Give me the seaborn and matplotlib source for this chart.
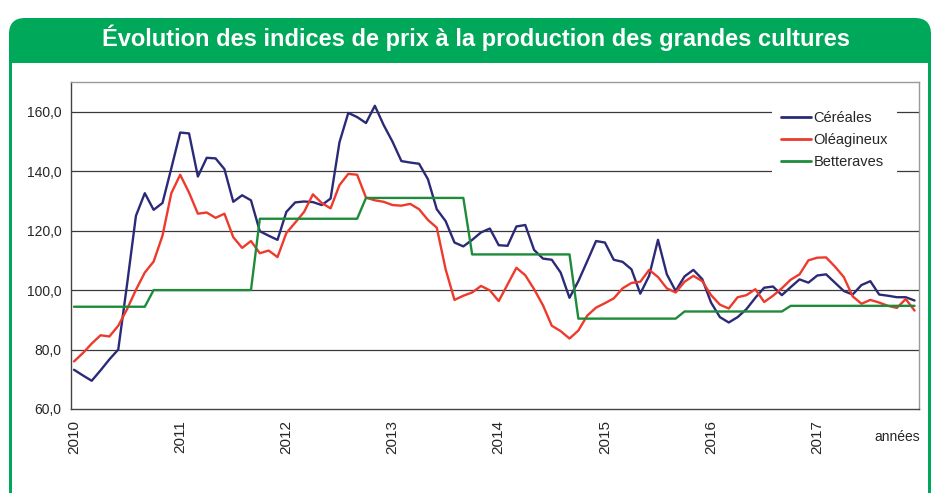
"""
Évolution des indices de prix à la production des grandes cultures (2010-2017).
"""

import numpy as np
import pandas as pd
import matplotlib
matplotlib.use("Agg")
import matplotlib.pyplot as plt
from matplotlib.patches import FancyBboxPatch, Rectangle
from matplotlib.ticker import FuncFormatter, FixedLocator
import seaborn as sns

# ── Data (monthly, Jan 2010 → Dec 2017) ─────────────────────
cereales = [
    73.2, 71.3, 69.5, 73.0, 76.7, 80.0, 102.0, 125.0, 132.6, 127.0, 129.3, 141.0,
    153.0, 152.7, 138.2, 144.5, 144.3, 140.7, 129.7, 131.9, 130.2, 119.8, 118.3, 116.9,
    126.3, 129.5, 129.8, 129.6, 128.6, 130.8, 149.7, 159.6, 158.2, 156.2, 162.0, 155.5,
    149.9, 143.4, 142.9, 142.5, 137.3, 127.2, 123.2, 116.0, 114.7, 116.9, 119.4, 120.7,
    115.1, 114.9, 121.4, 121.9, 113.5, 110.6, 110.2, 105.9, 97.4, 103.0, 109.7, 116.5,
    116.0, 110.2, 109.5, 107.0, 98.8, 104.8, 116.9, 105.3, 99.7, 104.6, 106.8, 103.7,
    95.8, 90.9, 89.1, 90.9, 93.6, 97.4, 100.8, 101.2, 98.3, 101.0, 103.6, 102.5,
    104.9, 105.3, 102.5, 99.7, 98.5, 101.7, 103.0, 98.5, 98.1, 97.6, 97.6, 96.5,
]
oleagineux = [
    76.0, 78.8, 82.0, 84.8, 84.4, 88.0, 93.6, 100.1, 105.9, 109.6, 118.3, 132.6,
    138.8, 132.8, 125.7, 126.1, 124.3, 125.7, 117.8, 114.2, 116.5, 112.4, 113.3, 111.1,
    119.2, 122.7, 126.3, 132.2, 129.3, 127.5, 135.3, 139.1, 138.8, 131.1, 130.2, 129.7,
    128.6, 128.4, 129.0, 127.2, 123.6, 121.0, 107.0, 96.7, 98.1, 99.2, 101.4, 99.9,
    96.3, 101.9, 107.5, 105.0, 100.3, 94.9, 88.0, 86.2, 83.7, 86.4, 91.4, 94.1,
    95.6, 97.2, 100.6, 102.4, 102.8, 106.8, 104.4, 100.6, 99.2, 102.8, 104.8, 103.0,
    98.3, 95.1, 93.8, 97.6, 98.3, 100.3, 96.0, 98.1, 100.6, 103.5, 105.3, 110.0,
    110.9, 111.0, 107.9, 104.4, 97.9, 95.4, 96.7, 95.8, 94.7, 94.0, 97.0, 93.1,
]
betteraves = [
    94.4, 94.4, 94.4, 94.4, 94.4, 94.4, 94.4, 94.4, 94.4, 100.0, 100.0, 100.0,
    100.0, 100.0, 100.0, 100.0, 100.0, 100.0, 100.0, 100.0, 100.0, 124.0, 124.0, 124.0,
    124.0, 124.0, 124.0, 124.0, 124.0, 124.0, 124.0, 124.0, 124.0, 131.0, 131.0, 131.0,
    131.0, 131.0, 131.0, 131.0, 131.0, 131.0, 131.0, 131.0, 131.0, 112.0, 112.0, 112.0,
    112.0, 112.0, 112.0, 112.0, 112.0, 112.0, 112.0, 112.0, 112.0, 90.4, 90.4, 90.4,
    90.4, 90.4, 90.4, 90.4, 90.4, 90.4, 90.4, 90.4, 90.4, 92.8, 92.8, 92.8,
    92.8, 92.8, 92.8, 92.8, 92.8, 92.8, 92.8, 92.8, 92.8, 94.7, 94.7, 94.7,
    94.7, 94.7, 94.7, 94.7, 94.7, 94.7, 94.7, 94.7, 94.7, 94.7, 94.7, 94.7,
]
years = ["2010", "2011", "2012", "2013", "2014", "2015", "2016", "2017"]
series_names = ["Céréales", "Oléagineux", "Betteraves"]

# ── Style ───────────────────────────────────────────────────
sns.set_style("white")
plt.rcParams["font.family"] = ["Liberation Sans", "DejaVu Sans"]
GREEN = "#00A85A"
PALETTE = {"Céréales": "#2B2A78", "Oléagineux": "#EE3A2C", "Betteraves": "#1E8B3A"}

months = np.arange(len(cereales))
df = pd.concat([
    pd.DataFrame({"mois": months, "indice": vals, "serie": name})
    for name, vals in zip(series_names, [cereales, oleagineux, betteraves])
], ignore_index=True)

W, H = 935, 493
fig = plt.figure(figsize=(W / 100, H / 100), dpi=100)

# ── Frame: green header with white panel ──────────────────
bg = fig.add_axes([0, 0, 1, 1], zorder=0)
bg.set_xlim(0, W)
bg.set_ylim(H, 0)
bg.axis("off")
bg.add_patch(FancyBboxPatch((9, 18), 922, 560,
                            boxstyle="round,pad=0,rounding_size=16",
                            fc=GREEN, ec="none"))
bg.add_patch(Rectangle((12, 63), 916, 560, fc="white", ec="none"))
bg.text(476, 38, "Évolution des indices de prix à la production des grandes cultures",
        color="white", fontsize=17, fontweight="bold", ha="center", va="center")

# ── Chart ──────────────────────────────────────────────────
ax = fig.add_axes([71 / W, 1 - 409 / H, (919 - 71) / W, (409 - 82) / H], zorder=1)
sns.lineplot(data=df, x="mois", y="indice", hue="serie", hue_order=series_names,
             palette=PALETTE, linewidth=1.7, ax=ax)

ax.set_xlim(-0.34, 95.5)
ax.set_ylim(60, 170)
ax.set_yticks(np.arange(60, 161, 20))
ax.yaxis.set_major_formatter(FuncFormatter(lambda v, _: f"{v:.1f}".replace(".", ",")))
for y in range(80, 161, 20):
    ax.axhline(y, color="#3a3a3a", lw=0.9, zorder=0.5)

ax.xaxis.set_major_locator(FixedLocator(np.arange(0, 96, 12)))
ax.set_xticklabels(years, rotation=90, fontsize=11)
ax.xaxis.set_minor_locator(FixedLocator(np.arange(-0.34, 95.6, 1)))
ax.tick_params(axis="x", which="major", length=0, pad=8)
ax.tick_params(axis="x", which="minor", length=4, width=0.8, color="#444444", direction="out")
ax.tick_params(axis="y", length=4, width=0.8, color="#444444", labelsize=10, pad=3)
ax.set_xlabel("")
ax.set_ylabel("")

for side in ["left", "bottom"]:
    ax.spines[side].set_color("#444444")
    ax.spines[side].set_linewidth(1.0)
for side in ["top", "right"]:
    ax.spines[side].set_color("#9a9a9a")
    ax.spines[side].set_linewidth(1.0)

leg = ax.legend(loc="upper left", bbox_to_anchor=(0.818, 0.962), frameon=True,
                fancybox=False, edgecolor="none", facecolor="white", framealpha=1,
                fontsize=10.5, handlelength=2.0, handletextpad=0.2,
                labelspacing=0.55, borderpad=0.65, title=None)
for line in leg.get_lines():
    line.set_linewidth(2.0)

fig.text(897 / W, 1 - 437 / H, "années", fontsize=10, ha="center", va="center")

fig.savefig("out.png", dpi=100)
plt.close(fig)
